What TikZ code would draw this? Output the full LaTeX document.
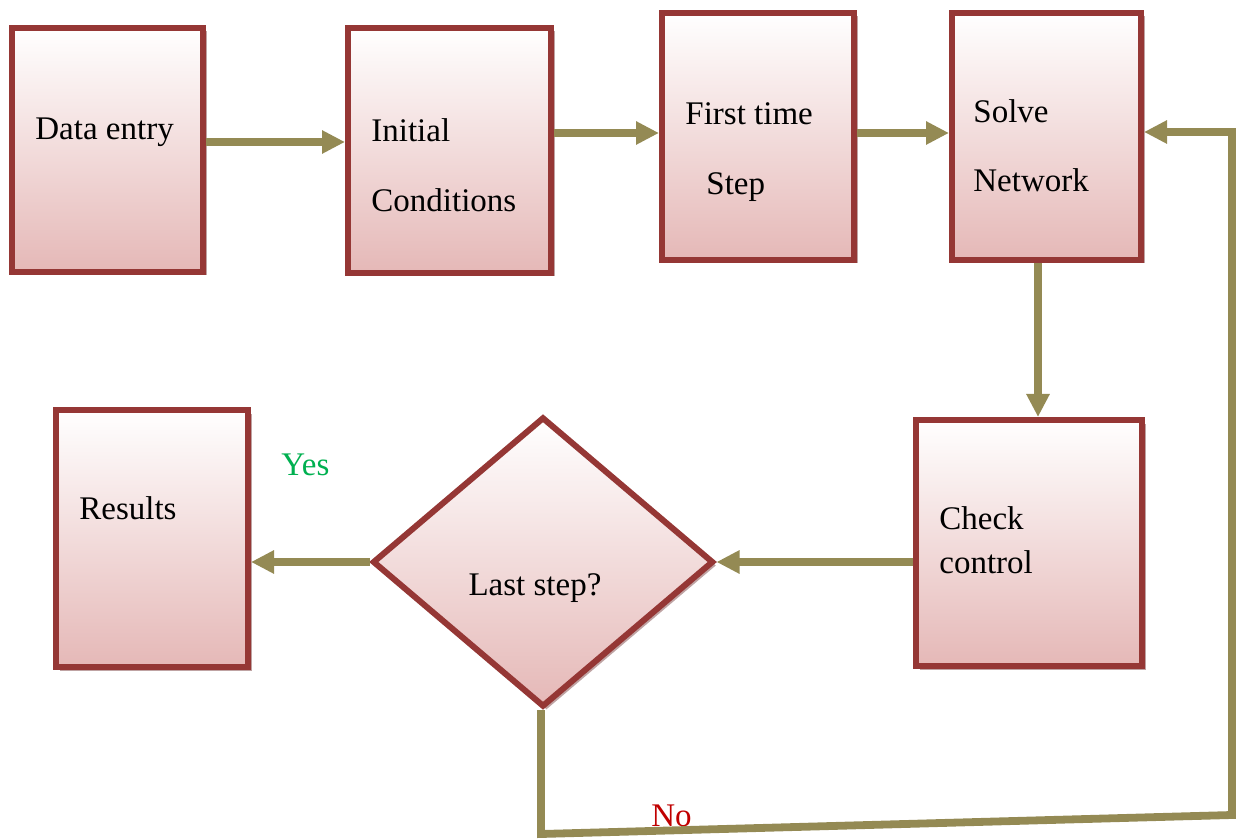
\documentclass[tikz,border=0pt]{standalone}
\usepackage{fontspec}
\setmainfont{Liberation Serif}
\usetikzlibrary{arrows.meta,shapes.geometric,shadows}
\definecolor{edge}{HTML}{953735}
\definecolor{filltop}{HTML}{FFFFFF}
\definecolor{fillbot}{HTML}{E5B8B7}
\definecolor{shade}{HTML}{BFA3A3}
\definecolor{link}{HTML}{948A54}
\definecolor{yescol}{HTML}{00B050}
\definecolor{nocol}{HTML}{C00000}

\begin{document}
\begin{tikzpicture}[x=0.5pt,y=-0.5pt,
  block/.style={draw=edge, line width=3pt, top color=filltop, bottom color=fillbot,
    drop shadow={shadow xshift=1.75pt, shadow yshift=-1.75pt, fill=shade, opacity=1},
    inner sep=0pt},
  txt/.style={anchor=base west, inner sep=0pt, font=\fontsize{16.5}{20}\selectfont},
  arr/.style={draw=link, line width=3.9pt, line join=miter,
    -{Triangle[length=11.5pt,width=11pt]}}]

\useasboundingbox (0,0) rectangle (1236,839);

% process boxes
\node[block, minimum width=95.5pt, minimum height=122pt]   (dat) at (107.5,150)  {};
\node[block, minimum width=101.5pt, minimum height=122.5pt] (ini) at (449.5,150.5) {};
\node[block, minimum width=96pt, minimum height=123.5pt]  (fst) at (758,136.5)   {};
\node[block, minimum width=94.5pt, minimum height=123.5pt] (sol) at (1046.5,136.5) {};
\node[block, minimum width=113pt, minimum height=123pt]   (chk) at (1029,543)    {};
\node[block, minimum width=96pt, minimum height=128.5pt]  (res) at (152,538.5)   {};
\node[block, diamond, aspect=1.17, minimum width=170.5pt, minimum height=145pt] (dia) at (543,562) {};

% box texts
\node[txt] (tdat)  at (35,140)  {Data entry};
\node[txt] (tini1) at (371,142) {Initial};
\node[txt] (tini2) at (371,212) {Conditions};
\node[txt] (tfst1) at (685,125) {First time};
\node[txt] (tfst2) at (706,195) {Step};
\node[txt] (tsol1) at (973,123) {Solve};
\node[txt] (tsol2) at (973,192) {Network};
\node[txt] (tchk1) at (939,529) {Check};
\node[txt] (tchk2) at (939,573) {control};
\node[txt] (tres)  at (79,519)  {Results};
\node[txt, anchor=base] (tdia) at (535,595) {Last step?};
\node[txt, text=yescol] (tyes) at (281,475) {Yes};
\node[txt, text=nocol]  (tno)  at (651,826) {No};

% connectors
\draw[arr] (dat.east |- 0,142) -- (ini.west |- 0,142);
\draw[arr] (ini.east |- 0,133) -- (fst.west |- 0,133);
\draw[arr] (fst.east |- 0,133) -- (sol.west |- 0,133);
\draw[arr] (sol.south -| 1038,0) -- (chk.north -| 1038,0);
\draw[arr] (chk.west |- dia.east) -- (dia.east);
\draw[arr] (dia.west) -- (res.east |- dia.west);

% "No" loop back to the solver
\coordinate (c1) at (541,834);
\coordinate (c2) at (1232,815);
\coordinate (c3) at (1232,132);
\draw[arr] (dia.south -| c1) -- (c1) -- (c2) -- (c3) -- (sol.east |- c3);
\end{tikzpicture}
\end{document}
